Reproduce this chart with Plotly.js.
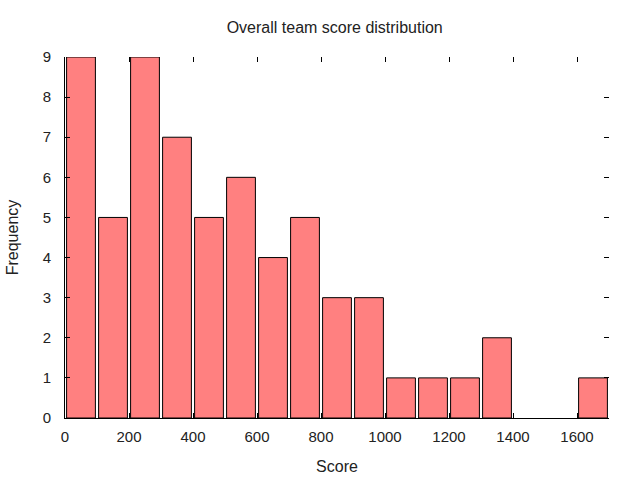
<!DOCTYPE html>
<html>
<head>
<meta charset="utf-8">
<script src="https://cdn.plot.ly/plotly-3.0.1.min.js"></script>
<style>html,body{margin:0;padding:0;background:#fff}#chart{width:640px;height:480px}</style>
</head>
<body>
<div id="chart"></div>
<script>
// Bin centers (score) and frequencies
const binCenters = [50, 150, 250, 350, 450, 550, 650, 750, 850, 950, 1050, 1150, 1250, 1350, 1450, 1550, 1650];
const frequencies = [9, 5, 9, 7, 5, 6, 4, 5, 3, 3, 1, 1, 1, 2, 0, 0, 1];
const xTickVals = [0, 200, 400, 600, 800, 1000, 1200, 1400, 1600];
const yTickVals = [0, 1, 2, 3, 4, 5, 6, 7, 8, 9];

const fam = 'Liberation Sans, Arial, sans-serif';
const tickFont = {family: fam, size: 15, color: '#222'};
const titleFont = {family: fam, size: 16, color: '#222'};

const data = [{
  type: 'bar',
  x: binCenters,
  y: frequencies,
  width: 90,
  marker: {color: '#ff8080', line: {color: '#000', width: frequencies.map(f => f > 0 ? 1 : 0)}},
  hoverinfo: 'x+y',
  showlegend: false
}];

const layout = {
  width: 640, height: 480,
  margin: {l: 65, r: 31, t: 57, b: 62},
  paper_bgcolor: '#fff', plot_bgcolor: '#fff',
  font: tickFont,
  title: {text: 'Overall team score distribution', font: titleFont, x: 0.523, xanchor: 'center', y: 0.943, yanchor: 'middle'},
  xaxis: {
    range: [0, 1700], tickvals: xTickVals, ticks: 'inside', ticklen: 5, tickcolor: '#000',
    showline: true, linecolor: '#000', linewidth: 1, showgrid: false, zeroline: false,
    ticklabelstandoff: 5,
    title: {text: 'Score', font: titleFont, standoff: 16},
    tickfont: tickFont, fixedrange: true
  },
  yaxis: {
    range: [0, 9], tickvals: yTickVals, ticks: 'inside', ticklen: 5, tickcolor: '#000',
    showline: true, linecolor: '#000', linewidth: 1, showgrid: false, zeroline: false,
    ticklabelstandoff: 10,
    title: {text: 'Frequency', font: titleFont, standoff: 20},
    tickfont: tickFont, fixedrange: true
  },
  xaxis2: {
    overlaying: 'x', matches: 'x', side: 'top', range: [0, 1700], tickvals: xTickVals,
    ticks: 'inside', ticklen: 5, tickcolor: '#000', showticklabels: false, showline: false,
    showgrid: false, zeroline: false, fixedrange: true
  },
  yaxis2: {
    overlaying: 'y', matches: 'y', side: 'right', range: [0, 9], tickvals: yTickVals,
    ticks: 'inside', ticklen: 5, tickcolor: '#000', showticklabels: false, showline: false,
    showgrid: false, zeroline: false, fixedrange: true
  },
  bargap: 0
};

// invisible trace to activate mirrored tick axes
data.push({type: 'scatter', x: [0], y: [0], xaxis: 'x2', yaxis: 'y2', mode: 'markers',
  marker: {opacity: 0}, hoverinfo: 'skip', showlegend: false});

Plotly.newPlot('chart', data, layout, {displayModeBar: false, staticPlot: true});
</script>
</body>
</html>
